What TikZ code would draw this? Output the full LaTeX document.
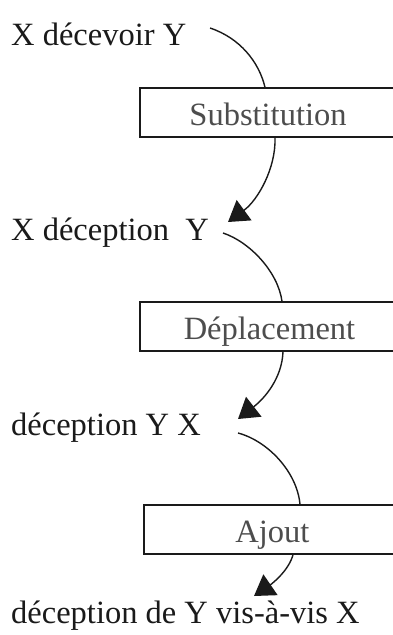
\documentclass[tikz,border=0pt]{standalone}
\usepackage{fontspec}
\setmainfont{Liberation Serif}
\usetikzlibrary{arrows.meta}
\definecolor{txt}{HTML}{1A1A1A}
\definecolor{boxtxt}{HTML}{4D4D4D}
\begin{document}
\begin{tikzpicture}[x=1pt,y=-1pt,
  lbl/.style={inner sep=0pt,anchor=base west,text=txt,font=\fontsize{32.5}{39}\selectfont},
  stepbox/.style={draw=txt,line width=1.4pt,fill=white,minimum width=256pt,minimum height=49pt,inner sep=0pt,text height=25pt,text depth=0pt,text=boxtxt,font=\fontsize{32.5}{39}\selectfont},
  conn/.style={draw=txt,line width=1.4pt},
  arr/.style={conn,-{Triangle[length=20pt,width=25pt]}}]
\useasboundingbox (0,0) rectangle (392,635);
\node[lbl] (t1) at (11,45) {X décevoir Y};
\node[lbl] (t2) at (11,240) {X déception~\ Y};
\node[lbl] (t3) at (11,435) {déception Y X};
\node[lbl] (t4) at (11,623) {déception de Y vis-à-vis X};
\node[stepbox] (b1) at (268,112.5) {Substitution};
\node[stepbox,minimum width=259pt] (b2) at (269.5,326.5) {Déplacement};
\node[stepbox,minimum width=257pt] (b3) at (272.5,529.5) {Ajout};
\coordinate (s1) at (210,28);
\coordinate (s2) at (223,233);
\coordinate (s3) at (238,433);
\coordinate (e1) at (228,222);
\coordinate (e2) at (238,419);
\coordinate (e3) at (254,596);
\draw[conn] (s1) .. controls (240,38) and (259,62) .. ([xshift=-3pt]b1.north);
\draw[arr] ([xshift=7pt]b1.south) .. controls (276,168) and (258,200) .. (e1);
\draw[conn] (s2) .. controls (250,242) and (278,272) .. ([xshift=12.5pt]b2.north);
\draw[arr] ([xshift=13.5pt]b2.south) .. controls (282,378) and (265,398) .. (e2);
\draw[conn] (s3) .. controls (268,441) and (297,472) .. ([xshift=27.5pt]b3.north);
\draw[arr] ([xshift=20.5pt]b3.south) .. controls (289,570) and (273,583) .. (e3);
\end{tikzpicture}
\end{document}
